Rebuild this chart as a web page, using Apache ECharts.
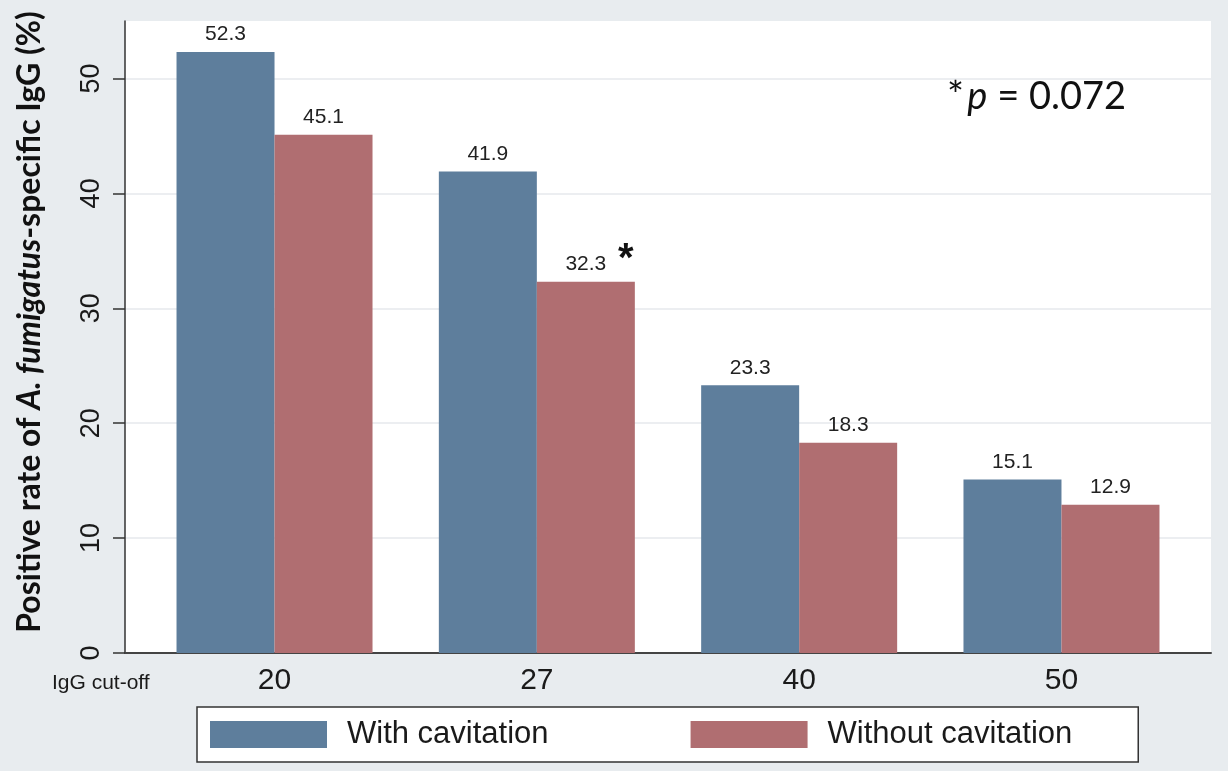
<!DOCTYPE html>
<html>
<head>
<meta charset="utf-8">
<script src="https://cdn.jsdelivr.net/npm/echarts@6/dist/echarts.min.js"></script>
<style>
  html, body { margin: 0; padding: 0; background: #e8ecef; }
  #chart { width: 1228px; height: 771px; }
</style>
</head>
<body>
<div id="chart"></div>
<script>
// IgG cut-off values (group labels)
const categories = ['20', '27', '40', '50'];
// Positive rate (%) by group
const withCavitation = [52.3, 41.9, 23.3, 15.1];
const withoutCavitation = [45.1, 32.3, 18.3, 12.9];
// Y axis tick values
const yTicks = [0, 10, 20, 30, 40, 50];
const seriesNames = ['With cavitation', 'Without cavitation'];
const pValueText = '0.072';
const flaggedIndex = 1; // group marked with an asterisk

const BLUE = '#5e7e9c';
const RED = '#b06e71';
const SANS = '"Liberation Sans", Arial, sans-serif';
const HUM = 'Lato, "Open Sans", sans-serif';

const chart = echarts.init(document.getElementById('chart'));

const toPoints = arr => arr.map((v, i) => [i, v]);

const labelStyle = {
  show: true,
  position: 'top',
  distance: 7,
  fontFamily: SANS,
  fontSize: 21,
  color: '#222',
  formatter: p => p.value[1].toFixed(1)
};

chart.setOption({
  backgroundColor: '#e8ecef',
  animation: false,
  grid: {
    left: 125, right: 17, top: 21, bottom: 118,
    show: true, backgroundColor: '#ffffff', borderWidth: 0
  },
  xAxis: {
    type: 'value',
    min: -0.57,
    max: 3.57,
    axisLine: { show: true, onZero: false, lineStyle: { color: '#444', width: 2 } },
    axisTick: { show: false },
    splitLine: { show: false },
    axisLabel: {
      customValues: categories.map((c, i) => i),
      formatter: v => categories[Math.round(v)],
      fontFamily: SANS,
      fontSize: 30,
      color: '#1a1a1a',
      margin: 13
    }
  },
  yAxis: {
    type: 'value',
    min: 0,
    max: 55,
    interval: 10,
    axisLine: { show: true, onZero: false, lineStyle: { color: '#333', width: 1.5 } },
    axisTick: { show: true, length: 12, lineStyle: { color: '#333', width: 1.5 }, customValues: yTicks },
    splitLine: { show: true, lineStyle: { color: '#e6e9ec', width: 1.5 } },
    axisLabel: {
      customValues: yTicks,
      rotate: 90,
      fontFamily: SANS,
      fontSize: 27,
      color: '#1a1a1a',
      margin: 20
    }
  },
  legend: {
    left: 197,
    top: 707,
    orient: 'horizontal',
    data: seriesNames,
    itemWidth: 117,
    itemHeight: 27,
    itemGap: 142,
    padding: [12, 66, 12, 13],
    backgroundColor: '#ffffff',
    borderColor: '#333',
    borderWidth: 1.5,
    borderRadius: 0,
    icon: 'rect',
    selectedMode: false,
    textStyle: {
      fontFamily: SANS,
      fontSize: 31,
      color: '#1a1a1a',
      padding: [0, 0, 0, 15]
    }
  },
  graphic: [
    {
      type: 'text',
      x: 30, y: 322,
      rotation: Math.PI / 2,
      style: {
        text: '{b|Positive rate of }{i|A. fumigatus}{b|-specific IgG (%)}',
        align: 'center',
        verticalAlign: 'middle',
        rich: {
          b: { fontFamily: HUM, fontWeight: 'bold', fontSize: 32, fill: '#111' },
          i: { fontFamily: HUM, fontWeight: 'bold', fontStyle: 'italic', fontSize: 32, fill: '#111' }
        }
      }
    },
    {
      type: 'text',
      x: 52, y: 683,
      style: {
        text: 'IgG cut-off',
        fontFamily: SANS,
        fontSize: 21,
        fill: '#1a1a1a',
        verticalAlign: 'middle'
      }
    },
    {
      type: 'text',
      x: 947, y: 97,
      style: {
        text: '{s|*} {p|p}{a| = ' + pValueText + '}',
        verticalAlign: 'middle',
        rich: {
          s: { fontFamily: HUM, fontSize: 40, fill: '#111' },
          a: { fontFamily: HUM, fontSize: 38, fill: '#111' },
          p: { fontFamily: HUM, fontStyle: 'italic', fontSize: 38, fill: '#111' }
        }
      }
    }
  ],
  series: [
    {
      name: seriesNames[0],
      type: 'bar',
      data: toPoints(withCavitation),
      barWidth: 98,
      barGap: '0%',
      itemStyle: { color: BLUE },
      label: labelStyle
    },
    {
      name: seriesNames[1],
      type: 'bar',
      data: toPoints(withoutCavitation),
      barWidth: 98,
      barGap: '0%',
      itemStyle: { color: RED },
      label: labelStyle,
      markPoint: {
        symbol: 'circle',
        symbolSize: 0,
        data: [{ coord: [flaggedIndex, withoutCavitation[flaggedIndex]] }],
        label: {
          show: true,
          formatter: '*',
          offset: [40, -22],
          fontFamily: SANS,
          fontWeight: 'bold',
          fontSize: 40,
          color: '#111'
        }
      }
    }
  ]
});
</script>
</body>
</html>
